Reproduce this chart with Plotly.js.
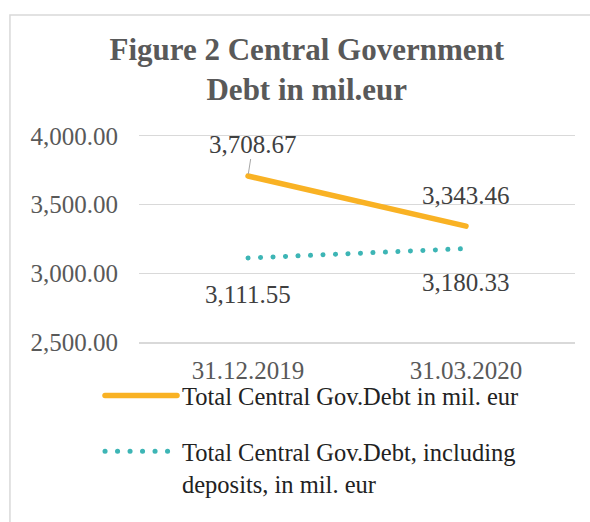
<!DOCTYPE html>
<html>
<head>
<meta charset="utf-8">
<script src="https://cdn.plot.ly/plotly-3.0.1.min.js"></script>
<style>
  html, body { margin: 0; padding: 0; background: #fff; }
  #chart { width: 590px; height: 522px; }
  path.js-line { stroke-linecap: round; }
</style>
</head>
<body>
<div id="chart"></div>
<script>
var dates = ['31.12.2019', '31.03.2020'];
var totalDebt = [3708.67, 3343.46];
var debtWithDeposits = [3111.55, 3180.33];
var totalLabels = ['3,708.67', '3,343.46'];
var depositLabels = ['3,111.55', '3,180.33'];

var serif = 'Liberation Serif, Times New Roman, serif';

var traceTotal = {
    x: dates,
    y: totalDebt,
    type: 'scatter',
    mode: 'lines',
    name: 'Total Central Gov.Debt in mil. eur',
    legendgroup: 'a',
    line: { color: '#F9B224', width: 5.5 },
    hoverinfo: 'skip'
};

var traceDeposits = {
    x: dates,
    y: debtWithDeposits,
    type: 'scatter',
    mode: 'lines',
    name: 'Total Central Gov.Debt, including<br>deposits, in mil. eur',
    legendgroup: 'b',
    line: { color: '#3DB5B5', width: 5, dash: '0.1px,12.4px' },
    hoverinfo: 'skip'
};

var data = [traceTotal, traceDeposits];

// data labels
var annotations = [
    {
        x: dates[0], y: totalDebt[0], text: totalLabels[0],
        showarrow: true, arrowhead: 0, arrowwidth: 1, arrowcolor: '#a6a6a6',
        ax: 5, ay: -32, standoff: 2
    },
    { x: dates[1], y: totalDebt[1], text: totalLabels[1], showarrow: false, yshift: 31 },
    { x: dates[0], y: debtWithDeposits[0], text: depositLabels[0], showarrow: false, yshift: -36 },
    { x: dates[1], y: debtWithDeposits[1], text: depositLabels[1], showarrow: false, yshift: -34 }
];
annotations.forEach(function (a) {
    a.font = { family: serif, size: 25, color: '#404040' };
});

var layout = {
    width: 590,
    height: 522,
    paper_bgcolor: '#fff',
    plot_bgcolor: '#fff',
    font: { family: serif, size: 25, color: '#595959' },
    title: {
        text: '<b>Figure 2 Central Government<br>Debt in mil.eur</b>',
        font: { family: serif, size: 31, color: '#595959' },
        xref: 'container', x: 0.52, xanchor: 'center',
        yref: 'container', y: 0.886, yanchor: 'top',
        automargin: false
    },
    xaxis: {
        type: 'category',
        range: [-0.5, 1.5],
        showgrid: false,
        zeroline: false,
        // top and bottom lines stand in for the 4,000 and 2,500 gridlines
        showline: true,
        mirror: true,
        linecolor: '#d9d9d9',
        linewidth: 1.5,
        ticks: '',
        ticklabelstandoff: 5,
        automargin: false,
        tickfont: { family: serif, size: 25, color: '#595959' }
    },
    yaxis: {
        range: [2500, 4000],
        dtick: 500,
        tickformat: ',.2f',
        showgrid: true,
        gridcolor: '#d9d9d9',
        gridwidth: 1.5,
        zeroline: false,
        showline: false,
        ticks: '',
        ticklabelstandoff: 20,
        automargin: false,
        tickfont: { family: serif, size: 25, color: '#595959' }
    },
    showlegend: true,
    legend: {
        xref: 'container', yref: 'container',
        x: 100 / 590, y: 1 - 373 / 522,
        xanchor: 'left', yanchor: 'top',
        orientation: 'v',
        valign: 'top',
        itemwidth: 72,
        tracegroupgap: 21,
        font: { family: serif, size: 24.5, color: '#222' },
        bgcolor: 'rgba(0,0,0,0)'
    },
    annotations: annotations,
    // chart frame
    shapes: [
        {
            type: 'path', xref: 'paper', yref: 'paper',
            path: 'M -0.296 -1.2 L -0.296 1.587 L 1.2 1.587',
            line: { color: '#d9d9d9', width: 1.5 }
        }
    ],
    margin: { l: 139, r: 15, t: 136, b: 180, pad: 0, autoexpand: false }
};

var config = { responsive: false, displayModeBar: false, staticPlot: true };

Plotly.newPlot('chart', data, layout, config);
</script>
</body>
</html>
